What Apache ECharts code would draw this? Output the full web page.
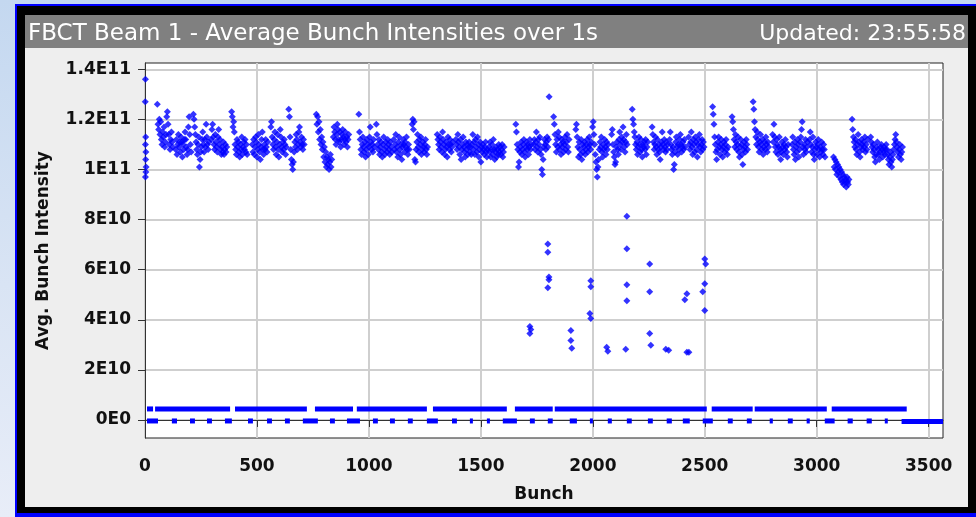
<!DOCTYPE html>
<html>
<head>
<meta charset="utf-8">
<script src="https://cdn.jsdelivr.net/npm/echarts@6/dist/echarts.min.js"></script>
<style>
  html, body { margin: 0; padding: 0; width: 976px; height: 517px; overflow: hidden; }
  body { position: relative; background: linear-gradient(to bottom, #c4d8f0 0%, #d9e4f4 55%, #e8edf8 100%); }
  #outline { position: absolute; left: 15px; top: 4px; width: 980px; height: 520px; background: #0000ff; }
  #frame { position: absolute; left: 17px; top: 6px; width: 980px; height: 507px; background: #000; }
  #panel { position: absolute; left: 25px; top: 15px; width: 943px; height: 492px; background: #eeeeee; }
  #bar { position: absolute; left: 25px; top: 15px; width: 943px; height: 33px; background: #808080; }
  #chart { position: absolute; left: 0; top: 0; width: 976px; height: 517px; }
</style>
</head>
<body>
<div id="outline"></div>
<div id="frame"></div>
<div id="panel"></div>
<div id="bar"></div>
<div id="chart"></div>
<script>
// Bunch slot axis and intensity axis ticks
const xTickValues = [0, 500, 1000, 1500, 2000, 2500, 3000, 3500];
const yTickValues = [0, 2e10, 4e10, 6e10, 8e10, 1e11, 1.2e11, 1.4e11];
const unit = 1e9; // intensities below are in units of 1E9 charges

// Filled bunch trains: first slot of each train, bunches every 3 slots
const slotStep = 3;
const trainStart = [55, 137, 216, 296, 387, 479, 562, 642, 765, 841, 955, 1033, 1111, 1193,
  1305, 1388, 1461, 1535, 1656, 1736, 1825, 1924, 1999, 2084, 2176, 2265, 2343, 2428,
  2535, 2622, 2716, 2803, 2890, 2968, 3075, 3158, 3241, 3314];
const trainIntensity = [
  [126, 118, 116, 120, 114, 119, 112, 110, 115, 113, 117, 109, 111, 114, 121, 123, 118, 114, 110, 108, 112, 115, 111, 109],
  [108, 112, 106, 110, 114, 109, 111, 107, 113, 111, 105, 110, 108, 112, 115, 112, 109, 106, 108, 117, 121, 114, 110, 107],
  [122, 120, 117, 114, 111, 108, 106, 110, 113, 101, 104, 107, 109, 112, 115, 110, 107, 112, 109, 118, 113, 110, 108, 111],
  [112, 116, 118, 113, 110, 108, 114, 111, 109, 107, 113, 116, 110, 112, 108, 106, 109, 107, 111, 106, 108, 110, 107, 109],
  [123, 121, 117, 119, 115, 110, 108, 106, 112, 109, 111, 107, 105, 110, 108, 113, 106, 109, 111, 108, 112, 107, 110, 106],
  [110, 107, 112, 106, 109, 113, 111, 105, 108, 114, 110, 107, 104, 109, 112, 115, 108, 106, 110, 108, 112, 109, 107, 111],
  [117, 119, 113, 110, 108, 112, 115, 109, 106, 111, 114, 108, 105, 110, 116, 113, 109, 107, 111, 108, 112, 110, 106, 109],
  [124, 121, 113, 108, 104, 102, 100, 103, 107, 111, 109, 114, 112, 108, 110, 115, 117, 111, 109, 113, 110, 108, 112, 110],
  [122, 118, 121, 115, 119, 112, 116, 110, 113, 108, 111, 105, 109, 103, 107, 101, 105, 102, 104, 100, 103, 106, 101, 104],
  [113, 117, 115, 112, 110, 114, 118, 116, 112, 111, 115, 109, 112, 114, 116, 113, 110, 112, 115, 111, 113, 109, 112, 114],
  [122, 115, 112, 108, 106, 110, 113, 109, 107, 111, 105, 108, 112, 110, 106, 109, 113, 117, 111, 108, 110, 107, 112, 109],
  [118, 114, 110, 108, 112, 106, 109, 111, 107, 105, 110, 113, 108, 106, 111, 109, 107, 112, 110, 108, 106, 111, 109, 107],
  [112, 108, 110, 114, 107, 109, 105, 111, 113, 108, 106, 110, 104, 109, 112, 110, 107, 111, 109, 113, 108, 106, 110, 108],
  [118, 120, 116, 119, 104, 103, 108, 111, 114, 109, 107, 112, 110, 113, 106, 108, 111, 109, 107, 110, 112, 108, 106, 109],
  [114, 112, 110, 108, 113, 111, 109, 107, 115, 112, 110, 106, 108, 111, 109, 105, 113, 110, 108, 112, 110, 107, 109, 111],
  [112, 110, 108, 114, 111, 109, 106, 112, 104, 108, 110, 113, 109, 107, 105, 111, 108, 110, 106, 109, 111, 107, 109, 106],
  [110, 114, 108, 111, 106, 112, 109, 107, 113, 110, 105, 108, 111, 103, 109, 107, 110, 108, 106, 109, 111, 107, 105, 108],
  [109, 107, 111, 105, 108, 110, 106, 112, 108, 104, 107, 109, 105, 108, 106, 110, 107, 109, 106, 108, 110, 105, 107, 109],
  [118, 115, 110, 108, 101, 103, 107, 109, 111, 106, 108, 110, 112, 107, 105, 109, 111, 108, 110, 106, 109, 112, 108, 110],
  [110, 112, 108, 111, 115, 109, 107, 112, 110, 113, 108, 106, 100, 98, 104, 109, 112, 110, 108, 111, 113, 109, 112, 129],
  [121, 118, 114, 110, 107, 112, 109, 115, 113, 108, 110, 106, 112, 109, 111, 107, 110, 113, 108, 111, 114, 109, 107, 112],
  [116, 118, 113, 109, 105, 111, 108, 106, 112, 104, 110, 107, 109, 111, 106, 108, 110, 112, 107, 109, 113, 110, 108, 111],
  [117, 119, 114, 110, 106, 103, 100, 97, 101, 104, 108, 111, 109, 113, 107, 105, 110, 108, 112, 109, 106, 111, 108, 110],
  [114, 116, 110, 107, 105, 102, 103, 109, 111, 108, 106, 112, 115, 110, 108, 113, 111, 117, 112, 109, 107, 111, 114, 110],
  [124, 120, 118, 115, 113, 110, 108, 111, 106, 109, 113, 110, 107, 112, 108, 105, 110, 109, 111, 108, 112, 106, 109, 111],
  [117, 114, 111, 108, 110, 113, 109, 106, 112, 108, 110, 107, 104, 109, 111, 115, 110, 108, 112, 109, 107, 111, 108, 110],
  [112, 115, 110, 108, 106, 109, 100, 102, 107, 111, 113, 109, 106, 110, 108, 112, 114, 110, 107, 109, 111, 108, 112, 109],
  [113, 110, 108, 111, 115, 109, 106, 112, 110, 107, 113, 111, 108, 105, 110, 112, 114, 109, 107, 110, 112, 108, 111, 109],
  [125, 122, 118, 113, 110, 107, 104, 108, 111, 113, 109, 106, 110, 112, 108, 105, 109, 111, 107, 110, 112, 108, 106, 109],
  [121, 119, 116, 112, 109, 114, 111, 108, 110, 113, 107, 105, 109, 112, 110, 106, 102, 108, 111, 109, 107, 112, 110, 108],
  [127, 124, 119, 116, 113, 110, 115, 112, 109, 107, 111, 114, 110, 108, 112, 106, 109, 111, 108, 113, 110, 107, 111, 109],
  [114, 111, 118, 113, 109, 107, 112, 110, 106, 109, 113, 108, 104, 107, 111, 109, 106, 110, 108, 112, 109, 107, 105, 110],
  [110, 113, 108, 106, 111, 104, 109, 107, 112, 110, 105, 108, 111, 113, 116, 119, 109, 106, 110, 108, 112, 107, 109, 111],
  [112, 115, 110, 107, 109, 113, 106, 104, 108, 111, 109, 106, 110, 112, 108, 105, 109, 107, 111, 108, 106, 110, 108, 105],
  [105, 101, 104, 100, 103, 98, 102, 99, 101, 97, 100, 96, 99, 95, 98, 94, 97, 95, 96, 93, 97, 95, 94, 96],
  [120, 116, 113, 111, 109, 112, 108, 106, 110, 114, 111, 107, 105, 109, 112, 110, 108, 111, 109, 113, 107, 110, 108, 112],
  [113, 111, 109, 107, 110, 108, 105, 103, 106, 109, 111, 108, 106, 104, 107, 109, 110, 108, 105, 107, 109, 106, 108, 110],
  [108, 106, 104, 102, 105, 107, 103, 101, 104, 106, 108, 110, 112, 114, 111, 109, 107, 105, 108, 110, 106, 104, 107, 109]
];

// Single bunches outside the regular trains: [slot, intensity 1E9]
const leadingBunches = [[2, 136], [1, 127], [3, 113], [2, 110], [4, 107], [3, 104], [5, 101], [4, 99], [2, 97]];
const partialBunches = [
  [1719, 37.3], [1723, 36.1], [1719, 34.5],
  [1799, 70.2], [1799, 67.0], [1804, 57.1], [1804, 56.0], [1799, 52.8],
  [1902, 35.7], [1902, 31.7], [1906, 28.6],
  [1991, 55.6], [1991, 53.2], [1987, 42.5], [1991, 40.5],
  [2062, 29.0], [2067, 27.4],
  [2152, 81.3], [2152, 68.3], [2152, 54.0], [2152, 47.6], [2147, 28.2],
  [2254, 62.3], [2254, 51.2], [2254, 34.5], [2259, 29.8],
  [2326, 28.2], [2339, 27.8],
  [2420, 50.4], [2411, 48.0], [2420, 27.0], [2429, 27.0],
  [2500, 64.3], [2504, 62.3], [2500, 54.4], [2491, 51.2], [2500, 43.7]
];

// Baseline readings of the unfilled slots: [first slot, last slot, intensity 1E9]
const trainBaseline = [
  [9, 36, 4.4], [45, 380, 4.4], [402, 723, 4.4], [759, 929, 4.4], [946, 1259, 4.4],
  [1286, 1616, 4.4], [1652, 1821, 4.4], [1830, 2509, 4.4], [2531, 2714, 4.4],
  [2723, 3045, 4.4], [3067, 3402, 4.4]
];
const gapBaseline = [
  [9, 58, -0.4], [120, 143, -0.4], [201, 223, -0.4], [277, 299, -0.4], [357, 388, -0.4],
  [460, 482, -0.4], [545, 567, -0.4], [625, 647, -0.4], [705, 772, -0.4], [826, 848, -0.4],
  [902, 960, -0.4], [1018, 1040, -0.4], [1094, 1116, -0.4], [1174, 1196, -0.4], [1259, 1308, -0.4],
  [1371, 1393, -0.4], [1451, 1464, -0.4], [1527, 1540, -0.4], [1598, 1661, -0.4], [1719, 1741, -0.4],
  [1799, 1821, -0.4], [1897, 1929, -0.4], [1987, 2000, -0.4], [2067, 2085, -0.4], [2152, 2174, -0.4],
  [2246, 2268, -0.4], [2330, 2353, -0.4], [2402, 2433, -0.4], [2491, 2536, -0.4], [2603, 2625, -0.4],
  [2688, 2710, -0.4], [2790, 2804, -0.4], [2871, 2893, -0.4], [2955, 2969, -0.4], [3036, 3080, -0.4],
  [3138, 3161, -0.4], [3223, 3246, -0.4], [3304, 3317, -0.4], [3379, 3564, -0.6]
];

const BLUE = '#0000ff';
const FONT = 'DejaVu Sans';

const bunchPoints = [];
trainStart.forEach(function (start, t) {
  trainIntensity[t].forEach(function (v, j) {
    bunchPoints.push([start + j * slotStep, v * unit]);
  });
});
leadingBunches.forEach(function (p) { bunchPoints.push([p[0], p[1] * unit]); });
const partialPoints = partialBunches.map(function (p) { return [p[0], p[1] * unit]; });
const baselineBands = trainBaseline.concat(gapBaseline).map(function (s) { return [s[0], s[1], s[2] * unit]; });

function sciLabel(v) {
  if (v === 0) return '0E0';
  const e = Math.floor(Math.log10(Math.abs(v)) + 1e-9);
  const m = Math.round(v / Math.pow(10, e) * 10) / 10;
  return m + 'E' + e;
}

const axisText = { fontFamily: FONT, fontWeight: 'bold', fontSize: 17, color: '#111' };

const chart = echarts.init(document.getElementById('chart'));
chart.setOption({
  animation: false,
  backgroundColor: 'transparent',
  title: [
    { text: 'FBCT Beam 1 - Average Bunch Intensities over 1s', left: 28, top: 23, padding: 0,
      textStyle: { color: '#ffffff', fontFamily: FONT, fontSize: 23, fontWeight: 'normal' } },
    { text: 'Updated: 23:55:58', right: 10, top: 23, padding: 0,
      textStyle: { color: '#ffffff', fontFamily: FONT, fontSize: 22, fontWeight: 'normal' } }
  ],
  grid: { left: 145, top: 63, width: 798, height: 375, show: true, backgroundColor: '#ffffff',
          borderColor: '#222', borderWidth: 1, containLabel: false, outerBoundsMode: 'none' },
  xAxis: {
    type: 'value', min: 0, max: 3564, interval: 500,
    name: 'Bunch', nameLocation: 'middle', nameGap: 48,
    nameTextStyle: axisText,
    axisLine: { show: true, lineStyle: { color: '#333', width: 1 } },
    axisTick: { show: true, length: 7, inside: false, customValues: xTickValues, lineStyle: { color: '#333' } },
    axisLabel: Object.assign({ margin: 20, customValues: xTickValues,
                               formatter: function (v) { return String(v); } }, axisText),
    splitLine: { show: true, lineStyle: { color: '#cfcfcf', width: 2 } }
  },
  yAxis: {
    type: 'value', min: -7.2e9, max: 1.425e11, splitNumber: 7,
    name: 'Avg. Bunch Intensity', nameLocation: 'middle', nameGap: 93, nameRotate: 90,
    nameTextStyle: axisText,
    axisLine: { show: true, lineStyle: { color: '#333', width: 1 } },
    axisTick: { show: true, length: 7, inside: false, customValues: yTickValues, lineStyle: { color: '#333' } },
    axisLabel: Object.assign({ margin: 14, customValues: yTickValues, formatter: sciLabel }, axisText),
    splitLine: { show: true, lineStyle: { color: '#cfcfcf', width: 2 } }
  },
  series: [
    {
      name: 'baseline', type: 'custom', data: baselineBands, encode: { x: [0, 1], y: 2 },
      renderItem: function (params, api) {
        const a = api.coord([api.value(0), api.value(2)]);
        const b = api.coord([api.value(1), api.value(2)]);
        return { type: 'rect', shape: { x: a[0], y: a[1] - 2.5, width: Math.max(b[0] - a[0], 3), height: 5 },
                 style: { fill: BLUE } };
      }
    },
    { name: 'bunches', type: 'scatter', data: bunchPoints, symbol: 'diamond', symbolSize: [7, 7],
      itemStyle: { color: BLUE } },
    { name: 'partial', type: 'scatter', data: partialPoints, symbol: 'diamond', symbolSize: [7, 7],
      itemStyle: { color: BLUE } }
  ]
});
</script>
</body>
</html>
